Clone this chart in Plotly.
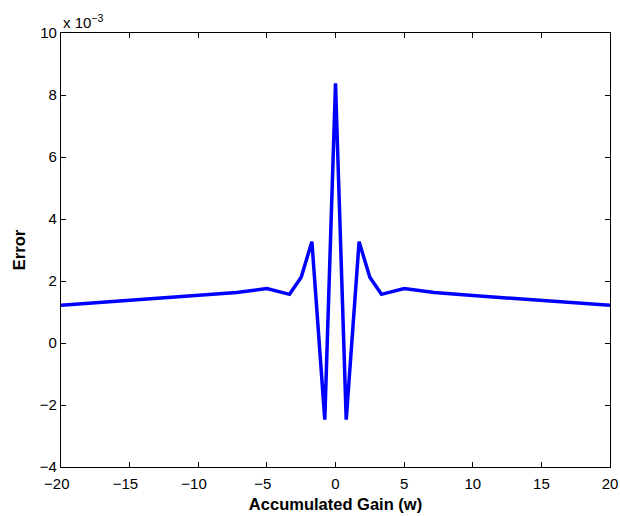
import plotly.graph_objects as go

# Accumulated gain (w) and error (in units of 1e-3)
gain = [-20, -15, -10, -7.2, -5.0, -3.35, -2.5, -1.72, -0.78, 0.0,
        0.78, 1.72, 2.5, 3.35, 5.0, 7.2, 10, 15, 20]
error_milli = [1.22, 1.38, 1.53, 1.63, 1.76, 1.57, 2.12, 3.27, -2.47, 8.38,
               -2.47, 3.27, 2.12, 1.57, 1.76, 1.63, 1.53, 1.38, 1.22]

x_ticks = [-20, -15, -10, -5, 0, 5, 10, 15, 20]
y_ticks = [-4, -2, 0, 2, 4, 6, 8, 10]


def tick_label(v):
    # negative labels keep their digits centred on the tick, sign hanging left
    if v < 0:
        return "\u2212" + str(abs(v)) + "\u00a0\u00a0"
    return str(v)


font_family = "Liberation Sans, Arial, sans-serif"

fig = go.Figure()
fig.add_trace(go.Scatter(
    x=gain, y=error_milli, mode="lines",
    line=dict(color="#0000FF", width=3.5),
    showlegend=False, hoverinfo="skip",
))

axis_common = dict(
    showgrid=False, zeroline=False, showline=True, linecolor="black",
    linewidth=1.3, mirror="ticks", ticks="inside", ticklen=5,
    tickcolor="black", automargin=False,
    tickfont=dict(family=font_family, size=15, color="black"),
)

fig.update_layout(
    width=620, height=516,
    margin=dict(l=61, r=10, t=33, b=49, autoexpand=False),
    paper_bgcolor="white", plot_bgcolor="white",
    font=dict(family=font_family, color="black"),
    xaxis=dict(
        range=[-20, 20], tickvals=x_ticks,
        ticktext=[tick_label(v) for v in x_ticks],
        ticklabelstandoff=3,
        title=dict(text="<b>Accumulated Gain (w)</b>",
                   font=dict(family=font_family, size=16.5), standoff=7),
        **axis_common,
    ),
    yaxis=dict(
        range=[-4, 10], tickvals=y_ticks,
        title=dict(text="<b>Error</b>",
                   font=dict(family=font_family, size=16.5), standoff=9),
        **axis_common,
    ),
    annotations=[dict(
        text="x 10<sup>\u22123</sup>", xref="paper", yref="paper",
        x=0.0, y=1.0, xanchor="left", yanchor="bottom", showarrow=False,
        font=dict(family=font_family, size=15, color="black"),
    )],
)

fig.write_html("out.html")
